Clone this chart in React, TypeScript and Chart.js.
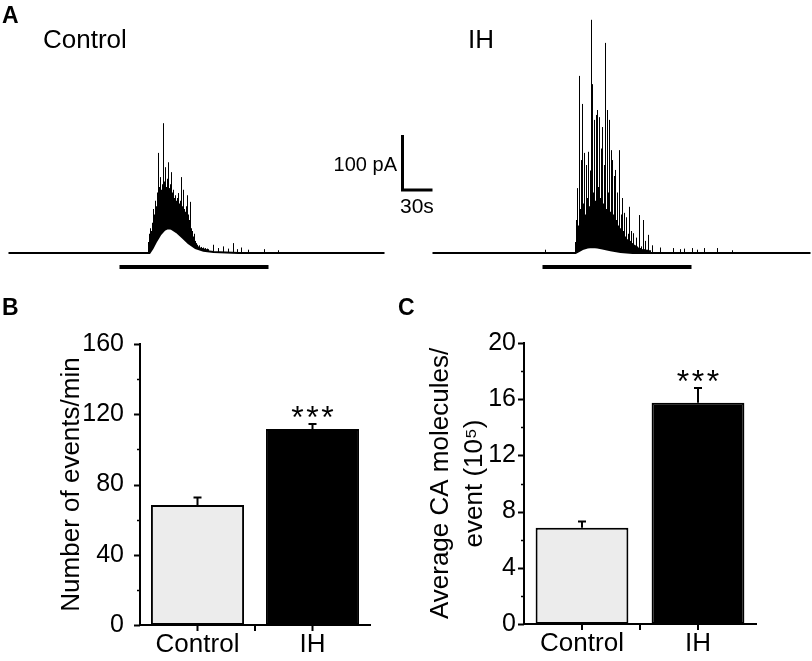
import React, { useEffect, useRef } from 'react';
import { Chart, registerables } from 'chart.js';

Chart.register(...registerables);

const FONT = '"Liberation Sans", Arial, Helvetica, sans-serif';
Chart.defaults.font.family = FONT;
Chart.defaults.color = '#000';

// ---------- Panel A: amperometric traces (time in s, current in pA) ----------
// Control: slow current (lower edge of the trace) and individual spike peaks
const ctrlHumpT = [0, 141, 144, 148, 152, 156, 159, 163, 168, 174, 180, 187, 195, 205, 230, 376];
const ctrlHumpV = [0, 0, 8, 22, 34, 42, 45, 44, 38, 28, 18, 9, 4, 2, 0, 0];
const ctrlSpikeT = [
  140, 141, 142, 143, 144, 145, 146, 147, 148, 149,
  150, 151, 152, 153, 154, 155, 156, 157, 158, 159,
  160, 161, 162, 163, 164, 165, 166, 167, 168, 169,
  170, 171, 172, 173, 174, 175, 176, 177, 178, 179,
  180, 181, 182, 183, 184, 185, 186, 187, 188, 189,
  190, 191, 192, 193, 194, 195, 196, 197, 198, 199, 200,
  205, 210, 215, 220, 225, 229, 233, 240, 256, 270,
];
const ctrlSpikePeak = [
  20, 35, 45, 40, 55, 80, 70, 95, 85, 110,
  182, 120, 138, 115, 125, 236, 130, 156, 120, 135,
  165, 118, 125, 147, 110, 115, 100, 105, 95, 100,
  109, 90, 95, 138, 85, 115, 80, 75, 85, 105,
  70, 60, 93, 45, 40, 30, 35, 22, 18, 15,
  12, 14, 10, 11, 9, 10, 8, 9, 7, 8, 7,
  15, 9, 12, 8, 18, 7, 10, 6, 7, 5,
];
const ctrlStim = [111, 260];

// IH
const ihHumpT = [0, 143, 146, 150, 155, 160, 165, 170, 178, 188, 200, 378];
const ihHumpV = [0, 0, 3, 7, 10, 11, 10, 8, 5, 2, 0, 0];
const ihSpikeT = [
  113,
  143, 144, 145, 146, 147, 148, 149, 150, 151, 152,
  153, 154, 155, 156, 157, 158, 159, 160, 161, 162,
  163, 164, 165, 166, 167, 168, 169, 170, 171, 172,
  173, 174, 175, 176, 177, 178, 179, 180, 181, 182,
  183, 184, 185, 186, 187, 188, 189, 190, 191, 192,
  193, 194, 195, 196, 197, 198, 199, 200, 201, 202,
  203, 204, 205, 206, 207, 208, 209, 210, 211, 212,
  213, 214, 215, 216, 217, 218,
  220, 228, 241, 248, 252, 260, 265, 272, 285, 300,
];
const ihSpikePeak = [
  6,
  20, 60, 118, 50, 322, 80, 169, 271, 90, 182,
  70, 160, 100, 184, 85, 150, 424, 307, 110, 242,
  95, 251, 260, 120, 247, 100, 190, 229, 90, 160,
  382, 80, 260, 110, 242, 75, 187, 169, 70, 140,
  151, 60, 110, 50, 187, 45, 70, 100, 40, 73,
  30, 65, 25, 35, 84, 22, 40, 18, 36, 15,
  14, 28, 12, 10, 69, 9, 12, 7, 60, 7,
  22, 6, 6, 33, 5, 5,
  14, 10, 9, 7, 8, 9, 6, 9, 9, 5,
];
const ihStim = [110, 259];

// scale bar
const scaleBarPA = 100;
const scaleBarS = 30;

// ---------- Panels B & C ----------
const groups = ['Control', 'IH'];
const eventsMean = [68.3, 111.6];
const eventsSem = [4.3, 2.8];
const caMean = [6.85, 15.75];
const caSem = [0.45, 1.05];
const significance = ['', '***'];

// axis ranges / layout constants
const TRACE_Y_MIN = -67.27;
const TRACE_Y_MAX = 460;
const STIM_LEVEL = -25.5;
const SCALE_ANCHOR_T = 394;
const SCALE_ANCHOR_V = 114.5;

const pts = (t: number[], v: number[]) => t.map((x, i) => ({ x, y: v[i] }));

function traceConfig(p: any): any {
  const datasets: any[] = [
    {
      // stimulus bar
      data: [{ x: p.stim[0], y: STIM_LEVEL }, { x: p.stim[1], y: STIM_LEVEL }],
      borderColor: '#000', borderWidth: 4, borderCapStyle: 'butt', pointRadius: 0, fill: false, order: 0, clip: false,
    },
    {
      // trace lower edge (slow current) – white below it
      data: pts(p.humpT, p.humpV),
      borderColor: '#000', borderWidth: 2, pointRadius: 0, fill: 'origin', backgroundColor: '#fff', tension: 0, order: 1, clip: false,
    },
    {
      // spikes
      data: p.spikeT.flatMap((t: number, i: number) => [
        { x: t, y: 0 },
        { x: t, y: p.spikePeak[i] },
        { x: t, y: null },
      ]),
      borderColor: '#000', borderWidth: 1, pointRadius: 0, fill: false, spanGaps: false, tension: 0, order: 2, clip: false,
    },
  ];
  if (p.scaleBar) {
    datasets.push({
      data: [
        { x: SCALE_ANCHOR_T, y: SCALE_ANCHOR_V + scaleBarPA },
        { x: SCALE_ANCHOR_T, y: SCALE_ANCHOR_V },
        { x: SCALE_ANCHOR_T + scaleBarS, y: SCALE_ANCHOR_V },
      ],
      borderColor: '#000', borderWidth: 3, borderCapStyle: 'butt', borderJoinStyle: 'miter', pointRadius: 0, fill: false, order: 0, clip: false,
    });
  }
  return {
    type: 'line',
    data: { datasets },
    options: {
      responsive: false, animation: false, events: [],
      layout: { padding: 0 },
      plugins: { legend: { display: false }, tooltip: { enabled: false } },
      scales: {
        x: { type: 'linear', display: false, min: -0.5, max: p.xMax - 0.5 },
        y: { type: 'linear', display: false, min: TRACE_Y_MIN, max: TRACE_Y_MAX },
      },
    },
  };
}

const barExtras = {
  id: 'barExtras',
  afterDraw(chart: any, _args: any, opts: any) {
    const { ctx } = chart;
    const xs = chart.scales.x;
    const ys = chart.scales.y;
    const area = chart.chartArea;
    ctx.save();
    ctx.strokeStyle = '#000';
    ctx.lineCap = 'butt';
    const step = opts.step;
    for (let v = ys.min; v <= ys.max + 1e-9; v += step / 2) {
      const isMajor = Math.abs(v / step - Math.round(v / step)) < 1e-6;
      const y = Math.round(ys.getPixelForValue(v)) + 0.5;
      ctx.lineWidth = isMajor ? 2 : 1.5;
      ctx.beginPath();
      ctx.moveTo(area.left, y);
      ctx.lineTo(area.left - (isMajor ? 6 : 3), y);
      ctx.stroke();
    }
    const n = chart.data.labels.length;
    const xt: number[] = [];
    for (let i = 0; i < n; i++) {
      xt.push(xs.getPixelForValue(i));
      if (i < n - 1) xt.push((xs.getPixelForValue(i) + xs.getPixelForValue(i + 1)) / 2);
    }
    ctx.lineWidth = 2;
    xt.forEach((x) => {
      ctx.beginPath();
      ctx.moveTo(x, area.bottom);
      ctx.lineTo(x, area.bottom + 6);
      ctx.stroke();
    });
    const meta = chart.getDatasetMeta(0);
    meta.data.forEach((bar: any, i: number) => {
      const top = ys.getPixelForValue(opts.means[i] + opts.sems[i]);
      ctx.lineWidth = 2;
      ctx.beginPath();
      ctx.moveTo(bar.x, bar.y);
      ctx.lineTo(bar.x, top);
      ctx.moveTo(bar.x - 4, top);
      ctx.lineTo(bar.x + 4, top);
      ctx.stroke();
      const s = opts.stars[i];
      if (s) {
        ctx.fillStyle = '#000';
        ctx.font = `32px ${FONT}`;
        ctx.textAlign = 'center';
        ctx.textBaseline = 'alphabetic';
        const chars = s.split('');
        chars.forEach((c: string, k: number) => {
          ctx.fillText(c, bar.x + (k - (chars.length - 1) / 2) * 15, top + 4);
        });
      }
    });
    ctx.restore();
  },
};

function barConfig(o: any): any {
  return {
    type: 'bar',
    data: {
      labels: groups,
      datasets: [
        {
          data: o.means,
          backgroundColor: ['#ececec', '#000'],
          borderColor: '#000',
          borderWidth: 2,
          borderSkipped: false,
          barPercentage: o.barPct,
          categoryPercentage: 1,
        },
      ],
    },
    options: {
      responsive: false, animation: false, events: [],
      layout: { padding: { top: o.padTop, right: o.padRight, bottom: 0, left: 0 } },
      plugins: {
        legend: { display: false },
        tooltip: { enabled: false },
        barExtras: { step: o.step, means: o.means, sems: o.sems, stars: significance },
      },
      scales: {
        x: {
          grid: { display: false, drawTicks: false },
          border: { display: true, color: '#000', width: 2 },
          ticks: { color: '#000', font: { size: 26 }, padding: 4, autoSkip: false, maxRotation: 0, minRotation: 0 },
          afterFit: (s: any) => { s.height = o.xHeight; },
        },
        y: {
          min: 0, max: o.yMax,
          grid: { display: false, drawTicks: false },
          border: { display: true, color: '#000', width: 2 },
          ticks: { stepSize: o.step, color: '#000', font: { size: 25 }, padding: o.labelPad },
          title: {
            display: true, text: o.title, color: '#000',
            font: { size: 26, lineHeight: o.titleLH },
            padding: { top: o.titlePad, bottom: 0 },
          },
          afterFit: (s: any) => { s.width = o.yWidth; },
        },
      },
    },
    plugins: [barExtras],
  };
}

function ChartCanvas({ config, left, top, width, height }: any) {
  const ref = useRef<HTMLCanvasElement | null>(null);
  useEffect(() => {
    if (!ref.current) return;
    const chart = new Chart(ref.current, config);
    return () => chart.destroy();
  }, []);
  return (
    <canvas
      ref={ref}
      width={width}
      height={height}
      style={{ position: 'absolute', left, top, width, height, display: 'block' }}
    />
  );
}

function Label({ text, left, top, size, bold, width, align }: any) {
  return (
    <div
      style={{
        position: 'absolute', left, top, width, textAlign: align || 'left',
        fontFamily: FONT, fontSize: size, fontWeight: bold ? 'bold' : 'normal',
        lineHeight: 1, whiteSpace: 'nowrap', color: '#000',
      }}
    >
      {text}
    </div>
  );
}

export default function App() {
  const ctrlCfg = traceConfig({
    humpT: ctrlHumpT, humpV: ctrlHumpV,
    spikeT: ctrlSpikeT, spikePeak: ctrlSpikePeak,
    stim: ctrlStim, xMax: 432, scaleBar: true,
  });
  const ihCfg = traceConfig({
    humpT: ihHumpT, humpV: ihHumpV,
    spikeT: ihSpikeT, spikePeak: ihSpikePeak,
    stim: ihStim, xMax: 380, scaleBar: false,
  });
  const bCfg = barConfig({
    means: eventsMean, sems: eventsSem, yMax: 160, step: 40, barPct: 0.81,
    padTop: 54, padRight: 36, yWidth: 140, xHeight: 36, labelPad: 16,
    title: 'Number of events/min', titleLH: 1.2, titlePad: 56,
  });
  const cCfg = barConfig({
    means: caMean, sems: caSem, yMax: 20, step: 4, barPct: 0.8,
    padTop: 53, padRight: 56, yWidth: 118, xHeight: 37, labelPad: 8,
    title: ['Average CA molecules/', 'event (10\u2075)'], titleLH: 1.3077, titlePad: 18,
  });
  return (
    <div style={{ position: 'absolute', left: 0, top: 0, width: 812, height: 661, background: '#fff', overflow: 'hidden' }}>
      <ChartCanvas config={ctrlCfg} left={8} top={0} width={432} height={290} />
      <ChartCanvas config={ihCfg} left={432} top={0} width={380} height={290} />
      <ChartCanvas config={bCfg} left={0} top={290} width={406} height={371} />
      <ChartCanvas config={cCfg} left={406} top={290} width={406} height={371} />
      <Label text="A" left={2} top={4} size={23} bold />
      <Label text="B" left={2} top={296} size={23} bold />
      <Label text="C" left={398} top={296} size={23} bold />
      <Label text="Control" left={43} top={26} size={26} />
      <Label text="IH" left={468} top={26} size={26} />
      <Label text="100 pA" left={297} width={100} align="right" top={154} size={20} />
      <Label text="30s" left={400} top={195} size={21} />
    </div>
  );
}
